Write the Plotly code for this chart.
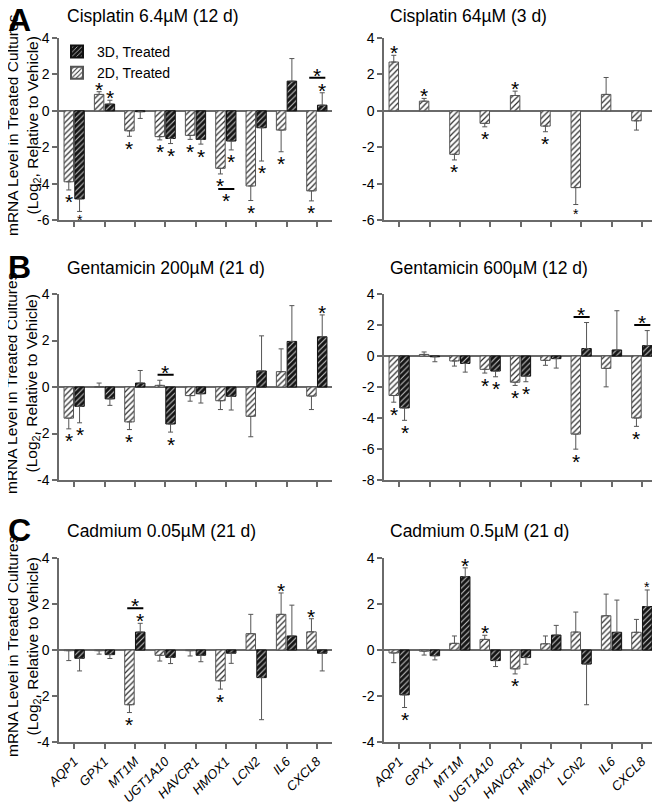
import plotly.graph_objects as go

# ---------------- data ----------------
genes = ["AQP1", "GPX1", "MT1M", "UGT1A10", "HAVCR1", "HMOX1", "LCN2", "IL6", "CXCL8"]
gene_labels = ["<i>" + g + "</i>" for g in genes]

panel_titles = ["Cisplatin 6.4\u00b5M (12 d)", "Cisplatin 64\u00b5M (3 d)",
                "Gentamicin 200\u00b5M (21 d)", "Gentamicin 600\u00b5M (12 d)",
                "Cadmium 0.05\u00b5M (21 d)", "Cadmium 0.5\u00b5M (21 d)"]
row_letters = ["A", "B", "C"]
series_names = ["2D, Treated", "3D, Treated"]

cis6_2d = [-3.9, 0.9, -1.1, -1.42, -1.35, -3.16, -4.13, -1.06, -4.4]
cis6_2d_err = [0.45, 0.15, 0.3, 0.18, 0.22, 0.31, 0.8, 1.19, 0.55]
cis6_2d_sig = [1, 1, 1, 1, 1, 1, 1, 1, 1]
cis6_3d = [-4.84, 0.37, -0.05, -1.52, -1.57, -1.66, -0.93, 1.63, 0.31]
cis6_3d_err = [0.69, 0.21, 0.37, 0.28, 0.26, 0.49, 1.83, 1.24, 0.68]
cis6_3d_sig = [2, 1, 0, 1, 1, 1, 1, 0, 1]
cis6_brackets = [(5, -1), (8, 1)]

cis64_2d = [2.68, 0.53, -2.39, -0.69, 0.84, -0.84, -4.22, 0.9, -0.55]
cis64_2d_err = [0.37, 0.15, 0.31, 0.19, 0.24, 0.31, 0.93, 0.93, 0.51]
cis64_2d_sig = [1, 1, 1, 1, 1, 1, 2, 0, 0]
cis64_3d = [None] * 9
cis64_3d_err = [0] * 9
cis64_3d_sig = [0] * 9
cis64_brackets = []

gen200_2d = [-1.34, 0.02, -1.5, 0.07, -0.37, -0.59, -1.26, 0.66, -0.39]
gen200_2d_err = [0.46, 0.15, 0.33, 0.22, 0.24, 0.38, 0.88, 0.98, 0.58]
gen200_2d_sig = [1, 0, 1, 0, 0, 0, 0, 0, 0]
gen200_3d = [-0.83, -0.51, 0.17, -1.59, -0.29, -0.4, 0.69, 1.96, 2.16]
gen200_3d_err = [0.71, 0.28, 0.54, 0.35, 0.4, 0.59, 1.51, 1.54, 0.94]
gen200_3d_sig = [1, 0, 0, 1, 0, 0, 0, 0, 1]
gen200_brackets = [(3, 1)]

gen600_2d = [-2.55, 0.1, -0.32, -0.86, -1.69, -0.28, -5.04, -0.8, -4.0]
gen600_2d_err = [0.43, 0.16, 0.33, 0.24, 0.21, 0.32, 0.97, 1.19, 0.54]
gen600_2d_sig = [1, 0, 0, 1, 1, 0, 1, 0, 1]
gen600_3d = [-3.35, -0.05, -0.48, -0.97, -1.3, -0.17, 0.48, 0.39, 0.67]
gen600_3d_err = [0.8, 0.32, 0.56, 0.37, 0.36, 0.61, 1.68, 2.53, 0.97]
gen600_3d_sig = [1, 0, 0, 1, 1, 0, 0, 0, 0]
gen600_brackets = [(6, 1), (8, 1)]

cd005_2d = [-0.03, -0.03, -2.38, -0.23, -0.03, -1.34, 0.71, 1.55, 0.79]
cd005_2d_err = [0.43, 0.15, 0.34, 0.25, 0.23, 0.36, 0.84, 0.93, 0.57]
cd005_2d_sig = [0, 0, 1, 0, 0, 1, 0, 1, 1]
cd005_3d = [-0.36, -0.2, 0.78, -0.32, -0.23, -0.14, -1.2, 0.61, -0.14]
cd005_3d_err = [0.55, 0.17, 0.38, 0.27, 0.28, 0.44, 1.83, 1.34, 0.77]
cd005_3d_sig = [0, 0, 1, 0, 0, 0, 0, 0, 0]
cd005_brackets = [(2, 1)]

cd05_2d = [-0.13, -0.05, 0.29, 0.46, -0.82, 0.27, 0.78, 1.49, 0.77]
cd05_2d_err = [0.42, 0.17, 0.32, 0.18, 0.22, 0.34, 0.87, 0.94, 0.56]
cd05_2d_sig = [0, 0, 0, 1, 1, 0, 0, 0, 0]
cd05_3d = [-1.95, -0.25, 3.19, -0.46, -0.33, 0.65, -0.61, 0.77, 1.89]
cd05_3d_err = [0.55, 0.18, 0.38, 0.26, 0.29, 0.42, 1.77, 1.4, 0.72]
cd05_3d_sig = [1, 0, 1, 0, 0, 0, 0, 0, 2]
cd05_brackets = [(2, 1)]

y_ranges = [(-6, 4), (-6, 4), (-4, 4), (-8, 4), (-4, 4), (-4, 4)]
y_ticks = [[-6, -4, -2, 0, 2, 4], [-6, -4, -2, 0, 2, 4], [-4, -2, 0, 2, 4],
           [-8, -6, -4, -2, 0, 2, 4], [-4, -2, 0, 2, 4], [-4, -2, 0, 2, 4]]

panels = [
    (cis6_2d, cis6_2d_err, cis6_2d_sig, cis6_3d, cis6_3d_err, cis6_3d_sig, cis6_brackets),
    (cis64_2d, cis64_2d_err, cis64_2d_sig, cis64_3d, cis64_3d_err, cis64_3d_sig, cis64_brackets),
    (gen200_2d, gen200_2d_err, gen200_2d_sig, gen200_3d, gen200_3d_err, gen200_3d_sig, gen200_brackets),
    (gen600_2d, gen600_2d_err, gen600_2d_sig, gen600_3d, gen600_3d_err, gen600_3d_sig, gen600_brackets),
    (cd005_2d, cd005_2d_err, cd005_2d_sig, cd005_3d, cd005_3d_err, cd005_3d_sig, cd005_brackets),
    (cd05_2d, cd05_2d_err, cd05_2d_sig, cd05_3d, cd05_3d_err, cd05_3d_sig, cd05_brackets),
]

# ---------------- layout geometry ----------------
W, H = 660, 804
OFF_X, OFF_Y = 8, 8  # page body margin offsets the figure in the window


def fx(px):
    return (px - OFF_X) / W


def fy(py):
    return 1 - (py - OFF_Y) / H


FONT = "Arial, 'Liberation Sans', Helvetica, sans-serif"
x_doms = [(fx(59), fx(332)), (fx(384), fx(657))]
y_doms = [(fy(220), fy(38)), (fy(480), fy(294)), (fy(742), fy(558))]
title_y = [fy(16), fy(268), fy(531)]
title_x = [fx(65), fx(388)]
AXC = "#6a6a6a"

BARGAP = 0.29
half_slot = (1 - BARGAP) / 4.0

fig = go.Figure()
annotations = []


def err_arrays(vals, errs):
    plus, minus = [], []
    for v, e in zip(vals, errs):
        if v is None:
            plus.append(0); minus.append(0)
        elif v >= 0:
            plus.append(e); minus.append(0)
        else:
            plus.append(0); minus.append(e)
    return plus, minus


style = {
    0: dict(pattern=dict(shape="/", fgcolor="#2a2a2a", bgcolor="white", size=4, solidity=0.3, fillmode="replace"),
            line=dict(color="#555555", width=1)),
    1: dict(pattern=dict(shape="/", fgcolor="#c8c8c8", bgcolor="#151515", size=4, solidity=0.25, fillmode="replace"),
            line=dict(color="#111111", width=1)),
}

STAR = 21

for p, (v2, e2, s2, v3, e3, s3, brackets) in enumerate(panels):
    row, col = p // 2, p % 2
    ax = "" if p == 0 else str(p + 1)
    xname, yname = "x" + ax, "y" + ax
    ymin, ymax = y_ranges[p]
    h_px = (y_doms[row][1] - y_doms[row][0]) * H
    upp = (ymax - ymin) / h_px

    for k, (vals, errs, name) in enumerate([(v2, e2, series_names[0]), (v3, e3, series_names[1])]):
        plus, minus = err_arrays(vals, errs)
        fig.add_trace(go.Bar(
            x=genes, y=vals, name=name, xaxis=xname, yaxis=yname,
            showlegend=(p == 0), legendrank=(2 if k == 0 else 1),
            marker=dict(color=style[k]["pattern"]["bgcolor"], pattern=style[k]["pattern"], line=style[k]["line"]),
            error_y=dict(type="data", symmetric=False, array=plus, arrayminus=minus,
                         color="#555555", thickness=1, width=2.5),
            cliponaxis=False,
        ))

    for k, (vals, errs, sigs) in enumerate([(v2, e2, s2), (v3, e3, s3)]):
        off = -half_slot if k == 0 else half_slot
        for i, (v, e, s) in enumerate(zip(vals, errs, sigs)):
            if v is None or not s:
                continue
            d = 1 if v >= 0 else -1
            end = v + d * e
            fs = STAR if s == 1 else 14
            glyph_off = 0.2265 * fs
            centre = 3 + 0.2 * fs
            ysh = (centre - glyph_off) if d > 0 else (-centre - glyph_off)
            annotations.append(dict(x=i + off, y=end, xref=xname, yref=yname, text="*", showarrow=False,
                                    yanchor="middle", xanchor="center", yshift=ysh,
                                    font=dict(size=fs, color="black", family=FONT)))

    for (i, d) in brackets:
        ends, starred = [], []
        for vals, errs, sigs in [(v2, e2, s2), (v3, e3, s3)]:
            v = vals[i]
            if v is None:
                continue
            if (v >= 0) == (d > 0):
                ends.append(v + d * errs[i]); starred.append(sigs[i] > 0)
        if d > 0:
            j = max(range(len(ends)), key=lambda q: ends[q])
        else:
            j = min(range(len(ends)), key=lambda q: ends[q])
        gap_px = 15 if starred[j] else 5.5
        by = ends[j] + d * gap_px * upp
        annotations.append(dict(x=i + 0.28, y=by, ax=i - 0.3, ay=by, xref=xname, yref=yname,
                                axref=xname, ayref=yname, text="", showarrow=True, arrowhead=0,
                                arrowwidth=2, arrowcolor="black", standoff=0, startstandoff=0))
        fs = STAR
        centre = 3 + 0.2 * fs
        ysh = (centre - 0.2265 * fs) if d > 0 else (-centre - 0.2265 * fs)
        annotations.append(dict(x=i - 0.01, y=by, xref=xname, yref=yname, text="*", showarrow=False,
                                yanchor="middle", xanchor="center", yshift=ysh,
                                font=dict(size=fs, color="black", family=FONT)))

    fig.layout["xaxis" + ax] = dict(
        domain=x_doms[col], anchor=yname, type="category", categoryorder="array", categoryarray=genes,
        range=[-0.5, 8.5], showline=True, linecolor=AXC, linewidth=1.5, ticks="outside", ticklen=5,
        tickwidth=1.5, tickcolor=AXC, showgrid=False, zeroline=False, automargin=False,
        showticklabels=(row == 2), tickmode="array", tickvals=genes, ticktext=gene_labels,
        tickangle=-45, tickfont=dict(size=13, color="black", family=FONT), fixedrange=True)
    fig.layout["yaxis" + ax] = dict(
        domain=y_doms[row], anchor=xname, range=[ymin, ymax], showline=True, linecolor=AXC,
        linewidth=1.5, ticks="outside", ticklen=5, tickwidth=1.5, tickcolor=AXC, showgrid=False,
        zeroline=True, zerolinecolor=AXC, zerolinewidth=1.5, tickmode="array", tickvals=y_ticks[p],
        ticktext=[str(t) for t in y_ticks[p]], tickfont=dict(size=14, color="black", family=FONT),
        fixedrange=True, automargin=False)

    annotations.append(dict(x=title_x[col], y=title_y[row], xref="paper", yref="paper",
                            text=panel_titles[p], showarrow=False, xanchor="left", yanchor="middle",
                            font=dict(size=17.5, color="black", family=FONT)))

letter_y = [fy(20), fy(267), fy(530)]
for r in range(3):
    annotations.append(dict(x=0, y=letter_y[r], xref="paper", yref="paper",
                            text="<b>" + row_letters[r] + "</b>", showarrow=False,
                            xanchor="left", yanchor="middle", xshift=-2,
                            font=dict(size=32, color="black", family=FONT)))
    yc = (y_doms[r][0] + y_doms[r][1]) / 2 + 4 / H
    annotations.append(dict(x=fx(23), y=yc, xref="paper", yref="paper",
                            text="mRNA Level in Treated Cultures<br>(Log<sub>2</sub>, Relative to Vehicle)",
                            showarrow=False, textangle=-90, xanchor="center", yanchor="middle",
                            font=dict(size=15.5, color="black", family=FONT)))

fig.update_layout(
    template="none",
    width=W, height=H, margin=dict(l=0, r=0, t=0, b=0, autoexpand=False),
    paper_bgcolor="white", plot_bgcolor="white",
    barmode="group", bargap=BARGAP, bargroupgap=0.12,
    font=dict(family=FONT, color="black"),
    showlegend=True,
    legend=dict(x=fx(57), y=fy(36), xanchor="left", yanchor="top", bgcolor="rgba(0,0,0,0)",
                font=dict(size=14, family=FONT, color="black"), tracegroupgap=0, itemsizing="constant"),
    annotations=annotations,
)

fig.write_html("out.html")
